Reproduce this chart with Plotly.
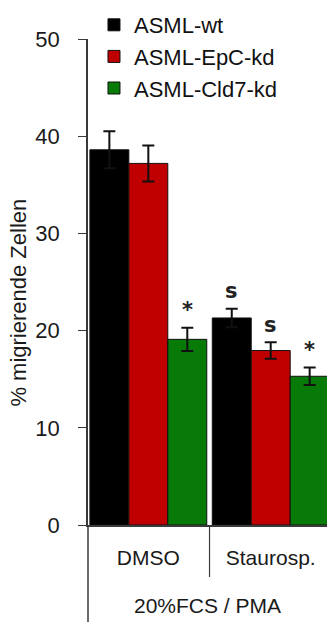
import plotly.graph_objects as go

# Migration assay: percent migrating cells per treatment and cell line
groups = ["DMSO", "Staurosp."]
series = ["ASML-wt", "ASML-EpC-kd", "ASML-Cld7-kd"]
values = {
    "ASML-wt": [38.6, 21.3],
    "ASML-EpC-kd": [37.2, 17.95],
    "ASML-Cld7-kd": [19.1, 15.3],
}
errors = {
    "ASML-wt": [1.9, 0.95],
    "ASML-EpC-kd": [1.85, 0.85],
    "ASML-Cld7-kd": [1.2, 0.9],
}
colors = {"ASML-wt": "#000000", "ASML-EpC-kd": "#C00000", "ASML-Cld7-kd": "#087A08"}

# significance marks: (series, group index, label)
marks = [
    ("ASML-Cld7-kd", 0, "*"),
    ("ASML-wt", 1, "s"),
    ("ASML-EpC-kd", 1, "s"),
    ("ASML-Cld7-kd", 1, "*"),
]

yticks = [0, 10, 20, 30, 40, 50]
x_title = "20%FCS / PMA"
y_title = "% migrierende Zellen"

BARGAP = 0.045
FONT = "Liberation Sans, Arial, sans-serif"

fig = go.Figure()
for s in series:
    fig.add_trace(go.Bar(
        name=s,
        x=groups,
        y=values[s],
        marker=dict(color=colors[s], line=dict(color="#111111", width=1)),
        error_y=dict(type="data", array=errors[s], visible=True,
                     color="#111111", thickness=2, width=6),
    ))

bar_w = (1 - BARGAP) / len(series)
for s, gi, label in marks:
    si = series.index(s)
    xpos = gi + (si - (len(series) - 1) / 2) * bar_w
    fig.add_annotation(
        x=xpos, y=values[s][gi] + errors[s][gi] + 1.8,
        xref="x", yref="y", text=f"<b>{label}</b>", showarrow=False,
        yanchor="middle",
        font=dict(family="DejaVu Sans, sans-serif", size=21, color="#222222"),
    )

# y-axis title, placed a little below the axis centre
fig.add_annotation(
    x=-0.29, y=0.457, xref="paper", yref="paper", text=y_title,
    textangle=-90, showarrow=False, xanchor="center", yanchor="middle",
    font=dict(family=FONT, size=22, color="#1a1a1a"),
)

# axis line continuing below the plot and separator between groups
fig.add_shape(type="line", xref="paper", yref="paper", x0=0, x1=0, y0=0, y1=-0.25,
              line=dict(color="#3a3a3a", width=1.5))
fig.add_shape(type="line", xref="x", yref="paper", x0=0.5, x1=0.5, y0=0, y1=-0.107,
              line=dict(color="#3a3a3a", width=1.2))

fig.update_layout(
    width=327, height=622, autosize=False,
    margin=dict(l=88, r=0, t=39, b=97),
    paper_bgcolor="white", plot_bgcolor="white",
    barmode="group", bargap=BARGAP, bargroupgap=0,
    font=dict(family=FONT, color="#1a1a1a"),
    legend=dict(
        x=0.025, y=1.072, xanchor="left", yanchor="top",
        font=dict(family=FONT, size=22, color="#111111"),
        bgcolor="rgba(0,0,0,0)", itemwidth=30, tracegroupgap=0,
    ),
    xaxis=dict(
        range=[-0.493, 1.46],
        showline=True, linecolor="#3a3a3a", linewidth=1.5,
        ticks="", tickfont=dict(size=21, family=FONT),
        ticklabelstandoff=13,
        title=dict(text=x_title, font=dict(size=21, family=FONT), standoff=30),
        showgrid=False, zeroline=False,
    ),
    yaxis=dict(
        range=[0, 50], tickvals=yticks,
        showline=True, linecolor="#3a3a3a", linewidth=1.5,
        ticks="outside", ticklen=8, tickcolor="#3a3a3a", tickwidth=1.2,
        tickfont=dict(size=22, family=FONT),
        ticklabelstandoff=14,
        showgrid=False, zeroline=False,
    ),
)

fig.write_html("out.html")
